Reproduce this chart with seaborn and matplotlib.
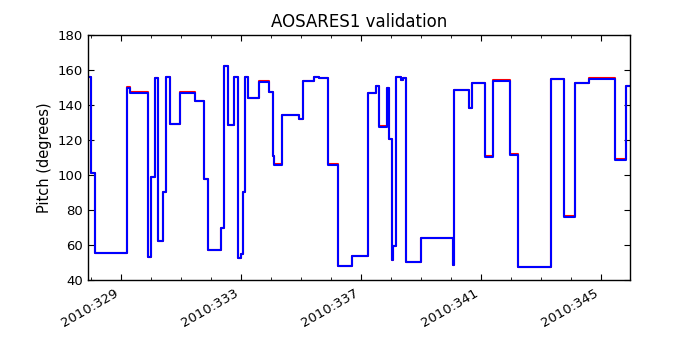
"""
AOSARES1 pitch validation plot
"""
import seaborn as sns
import numpy as np
import pandas as pd
import matplotlib
matplotlib.use("Agg")
import matplotlib.pyplot as plt
from matplotlib.ticker import FixedLocator, MultipleLocator

# step transitions: day-of-year 2010 -> pitch (deg)
days = [327.887, 328.0, 328.133, 329.2, 329.3, 329.91, 330.0, 330.153, 330.243, 330.4,
        330.51, 330.62, 330.967, 331.467, 331.777, 331.887, 332.333, 332.443, 332.553, 332.777,
        332.887, 333.0, 333.053, 333.133, 333.243, 333.6, 333.943, 334.053, 334.11, 334.353,
        334.943, 335.053, 335.443, 335.61, 335.887, 336.243, 336.7, 337.22, 337.487, 337.61,
        337.867, 337.943, 338.033, 338.077, 338.167, 338.333, 338.387, 338.5, 339.0, 340.053,
        340.087, 340.61, 340.687, 341.133, 341.387, 341.977, 342.243, 343.333, 343.777, 344.133,
        344.61, 345.467, 345.82, 345.967]

pitch_blue = [156, 101, 55.5, 150, 147, 53, 99, 155.5, 62, 90,
              156, 129, 147, 142.5, 97.5, 57, 69.5, 162.5, 128.5, 156,
              52.5, 55, 90, 156, 144, 153.3, 147.5, 111, 105.7, 134,
              132, 154, 156, 155.5, 105.7, 48.2, 53.5, 147, 151, 127.6,
              149.5, 120.4, 51.4, 59.4, 156, 154.3, 155.6, 50, 64, 48.6,
              148.6, 138, 152.4, 110.5, 153.7, 111.4, 47.2, 154.7, 76.2, 152.4,
              155, 108.6, 151, 151]

pitch_red = [156, 101, 55.5, 150.3, 147.3, 53, 99, 155.5, 62, 90,
             156, 129.3, 147.3, 142.5, 97.5, 57.3, 69.5, 162.5, 128.8, 156,
             52.5, 55, 90, 156, 144, 153.5, 147.5, 111, 106, 134.3,
             132, 154, 156, 155.5, 106, 48.2, 53.5, 147, 151, 127.8,
             149.5, 120.4, 51.4, 59.4, 156, 154.3, 155.6, 50, 64, 48.6,
             148.8, 138, 152.4, 110.8, 154.3, 111.8, 47.2, 154.9, 76.4, 152.4,
             155.3, 109.2, 151, 151]

tick_days = [329, 333, 337, 341, 345]
tick_labels = ["2010:329", "2010:333", "2010:337", "2010:341", "2010:345"]

df = pd.DataFrame({"day": days, "red": pitch_red, "blue": pitch_blue})

sns.set_style("ticks", {"xtick.direction": "in", "ytick.direction": "in",
                        "axes.edgecolor": "black", "text.color": "black",
                        "axes.labelcolor": "black"})
plt.rcParams["font.family"] = ["DejaVu Sans"]
plt.rcParams["font.size"] = 12

fig, ax = plt.subplots(figsize=(7, 3.5), dpi=100)

sns.lineplot(data=df, x="day", y="red", color=(1, 0, 0), lw=1.5,
             drawstyle="steps-post", ax=ax)
sns.lineplot(data=df, x="day", y="blue", color=(0, 0, 1), lw=1.5,
             drawstyle="steps-post", ax=ax)

ax.set_xlim(days[0], days[-1])
ax.set_ylim(40, 180)
ax.yaxis.set_major_locator(MultipleLocator(20))
ax.xaxis.set_major_locator(FixedLocator(tick_days))
ax.xaxis.set_minor_locator(MultipleLocator(1))
ax.set_xticklabels(tick_labels, rotation=30, ha="right")
ax.tick_params(which="both", top=True, right=True, direction="in",
               labelsize=9.5, colors="black")
ax.tick_params(which="major", length=4, width=0.8)
ax.tick_params(which="minor", length=2, width=0.6)
ax.tick_params(axis="x", pad=5)
for sp in ax.spines.values():
    sp.set_linewidth(1.0)
    sp.set_color("black")

ax.set_xlabel("")
ax.set_ylabel("Pitch (degrees)", fontsize=10.5, color="black")
ax.set_title("AOSARES1 validation", fontsize=12, color="black")

plt.subplots_adjust(left=0.125, right=0.9, top=0.9, bottom=0.2)
plt.savefig("out.png", dpi=100)
